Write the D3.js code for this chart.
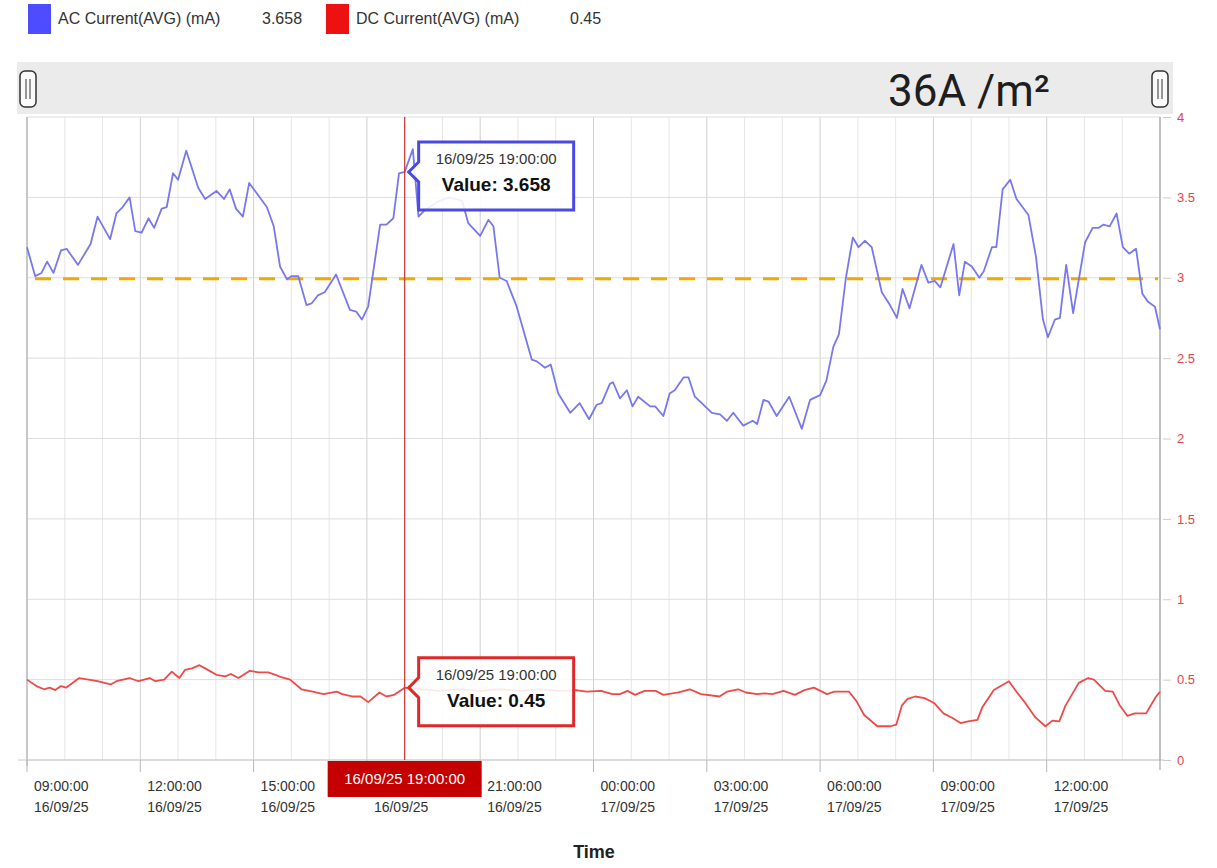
<!DOCTYPE html>
<html>
<head>
<meta charset="utf-8">
<script src="https://cdn.jsdelivr.net/npm/d3@7"></script>
<style>
  body { margin: 0; background: #fff; }
  svg { display: block; font-family: "Liberation Sans Narrow", "Arial Narrow", "Liberation Sans", sans-serif; }
</style>
</head>
<body>
<script>
// Chart size and plot area
const width = 1217;
const height = 868;
const margin = { top: 117, right: 57, bottom: 108, left: 27 };

// Data: minutes after 16/09/25 09:00:00
const acMinutes = [0,13,23,32,42,54,63,81,101,112,132,142,152,163,172,182,193,202,214,222,
  232,240,253,272,283,301,313,322,332,343,353,381,392,402,413,420,431,444,452,462,
  473,491,513,523,532,542,561,571,582,591,600,613,622,632,651,670,691,701,720,733,
  741,751,762,778,802,810,823,832,844,863,878,893,905,913,926,931,942,953,962,971,
  990,998,1011,1021,1029,1043,1051,1061,1072,1088,1101,1112,1122,1138,1153,1160,1170,1178,1191,1211,
  1231,1244,1260,1270,1281,1290,1301,1312,1321,1331,1342,1358,1371,1382,1391,1402,1421,1432,1442,1451,
  1472,1481,1490,1501,1513,1520,1533,1540,1550,1562,1572,1591,1603,1614,1622,1633,1641,1651,1662,1681,
  1693,1702,1710,1720,1731,1741,1751,1762,1772,1781,1792,1800];
const acValues = [3.19,3.01,3.03,3.10,3.03,3.17,3.18,3.08,3.21,3.38,3.24,3.40,3.44,3.50,3.29,3.28,3.37,3.31,3.43,3.44,
  3.65,3.61,3.79,3.56,3.49,3.54,3.49,3.55,3.43,3.38,3.59,3.44,3.32,3.07,2.99,3.01,3.01,2.83,2.84,2.89,
  2.91,3.02,2.80,2.79,2.74,2.82,3.33,3.33,3.37,3.65,3.658,3.80,3.38,3.42,3.47,3.50,3.48,3.34,3.26,3.36,
  3.32,3.00,2.98,2.82,2.49,2.48,2.44,2.46,2.28,2.16,2.22,2.12,2.21,2.22,2.34,2.35,2.25,2.30,2.20,2.26,
  2.20,2.20,2.14,2.28,2.30,2.38,2.38,2.26,2.22,2.16,2.15,2.11,2.16,2.08,2.11,2.09,2.24,2.23,2.14,2.26,
  2.06,2.24,2.27,2.36,2.57,2.65,3.00,3.25,3.19,3.23,3.19,2.91,2.83,2.75,2.93,2.81,3.08,2.97,2.98,2.94,
  3.21,2.89,3.10,3.07,3.00,3.04,3.19,3.19,3.55,3.61,3.49,3.39,3.13,2.74,2.63,2.74,2.75,3.08,2.78,3.22,
  3.31,3.31,3.33,3.32,3.40,3.19,3.15,3.18,2.90,2.85,2.82,2.68];

const dcMinutes = [0,15,27,36,45,54,62,83,98,112,133,142,163,177,195,204,218,230,242,251,
  262,274,283,301,315,324,336,354,368,383,395,404,418,436,454,471,492,501,518,530,
  542,560,571,583,600,624,656,688,720,751,783,815,847,872,889,912,930,942,954,966,
  981,999,1011,1035,1053,1071,1100,1112,1130,1142,1160,1172,1184,1202,1220,1235,1250,1271,1283,1295,
  1306,1318,1330,1351,1372,1381,1390,1399,1411,1426,1441,1456,1471,1483,1495,1510,1518,1536,1560,1572,
  1584,1602,1618,1629,1640,1650,1671,1686,1695,1713,1725,1736,1748,1760,1778,1793,1800];
const dcValues = [0.50,0.46,0.44,0.45,0.435,0.46,0.45,0.51,0.50,0.49,0.47,0.49,0.51,0.49,0.51,0.49,0.50,0.55,0.51,0.56,
  0.57,0.59,0.57,0.53,0.52,0.535,0.51,0.555,0.545,0.545,0.53,0.515,0.50,0.44,0.425,0.41,0.425,0.41,0.395,0.395,
  0.36,0.42,0.395,0.405,0.45,0.44,0.43,0.44,0.43,0.44,0.43,0.44,0.43,0.435,0.425,0.43,0.41,0.41,0.43,0.405,
  0.43,0.43,0.405,0.42,0.44,0.41,0.395,0.425,0.44,0.42,0.41,0.415,0.41,0.43,0.405,0.435,0.45,0.41,0.425,0.425,
  0.425,0.365,0.28,0.21,0.21,0.22,0.34,0.38,0.395,0.385,0.355,0.29,0.26,0.23,0.24,0.25,0.33,0.435,0.49,0.425,
  0.365,0.265,0.21,0.245,0.24,0.34,0.48,0.51,0.50,0.43,0.425,0.34,0.275,0.29,0.29,0.39,0.425];

const seriesNames = ["AC Current(AVG) (mA)", "DC Current(AVG) (mA)"];
const seriesColors = ["#4d4dff", "#ee1111"];
const lineColors = ["#7878ee", "#ee4a4a"];
const tipBorders = ["#4a4ae0", "#e02828"];
const cursorMinute = 600;
const cursorValues = [3.658, 0.45];
const threshold = 3;
const yTicks = [0, 0.5, 1, 1.5, 2, 2.5, 3, 3.5, 4];
const scaleLabel = "36A /m²";
const axisTitle = "Time";

const start = new Date(2025, 8, 16, 9, 0, 0);
const toDate = m => d3.timeMinute.offset(start, m);

const svg = d3.select("body").append("svg")
  .attr("width", width)
  .attr("height", height);

const x = d3.scaleTime()
  .domain([start, d3.timeHour.offset(start, 30)])
  .range([margin.left, width - margin.right]);

const y = d3.scaleLinear()
  .domain([0, 4])
  .range([height - margin.bottom, margin.top]);

const x0 = margin.left, x1 = width - margin.right;
const yTop = margin.top, yBottom = height - margin.bottom;
const cursorDate = toDate(cursorMinute);
const cx = x(cursorDate);
const cursorBoxW = 154;

// Grid lines (every hour, darker every 3 hours)
const hours = d3.timeHour.range(start, d3.timeHour.offset(start, 31));
svg.append("g").selectAll("line")
  .data(hours)
  .join("line")
  .attr("x1", d => x(d)).attr("x2", d => x(d))
  .attr("y1", yTop).attr("y2", yBottom)
  .attr("stroke", d => d.getHours() % 3 === 0 ? "#cfcfcf" : "#e6e6e6")
  .attr("stroke-width", 1);

svg.append("g").selectAll("line")
  .data(yTicks)
  .join("line")
  .attr("x1", x0).attr("x2", x1)
  .attr("y1", d => y(d)).attr("y2", d => y(d))
  .attr("stroke", "#dddddd");

// Left and bottom axis lines
svg.append("line").attr("x1", x0).attr("x2", x0).attr("y1", yTop).attr("y2", yBottom + 6).attr("stroke", "#a8a8a8");
svg.append("line").attr("x1", 18).attr("x2", x1 + 4).attr("y1", yBottom).attr("y2", yBottom).attr("stroke", "#c8c8c8");

// Right axis
const yAxis = d3.axisRight(y).tickValues(yTicks).tickSize(8).tickPadding(6).tickFormat(d3.format("~g"));
const yAxisG = svg.append("g").attr("transform", `translate(${x1 + 3},0)`).call(yAxis);
yAxisG.select(".domain").remove();
yAxisG.selectAll(".tick line").attr("stroke", "#cccccc");
yAxisG.selectAll(".tick text").attr("fill", "#e8424a").attr("font-size", 13);
svg.append("line").attr("x1", x1).attr("x2", x1).attr("y1", yTop).attr("y2", yBottom + 10).attr("stroke", "#999");

// Bottom axis, two-line labels every 3 hours
const xTicks = d3.timeHour.every(3).range(start, d3.timeHour.offset(start, 30));
const xAxisG = svg.append("g");
const xt = xAxisG.selectAll("g").data(xTicks).join("g")
  .attr("transform", d => `translate(${x(d)},${yBottom})`);
xt.append("line").attr("y1", 0).attr("y2", 12).attr("stroke", "#b8b8b8");
// the time line of a tick that sits under the cursor label is covered by it, so it is left out
const underCursor = d => x(d) + 7 < cx + cursorBoxW / 2 && x(d) + 61 > cx - cursorBoxW / 2;
xt.filter(d => !underCursor(d))
  .append("text").attr("x", 7).attr("y", 31).attr("font-size", 14).attr("fill", "#333")
  .text(d => d3.timeFormat("%H:%M:%S")(d));
xt.append("text").attr("x", 7).attr("y", 52).attr("font-size", 14).attr("fill", "#333")
  .text(d => d3.timeFormat("%d/%m/%y")(d));

svg.append("text")
  .attr("x", 594).attr("y", 858)
  .attr("text-anchor", "middle")
  .attr("font-size", 18).attr("font-weight", "bold").attr("fill", "#222")
  .text(axisTitle);

// Threshold line
svg.append("line")
  .attr("x1", x0 + 8).attr("x2", x1 - 2)
  .attr("y1", y(threshold) + 1).attr("y2", y(threshold) + 1)
  .attr("stroke", "#f2a900").attr("stroke-width", 3)
  .attr("stroke-dasharray", "16,12");

// Series lines
const line = d3.line().x(d => x(d.t)).y(d => y(d.v));
const acData = acMinutes.map((m, i) => ({ t: toDate(m), v: acValues[i] }));
const dcData = dcMinutes.map((m, i) => ({ t: toDate(m), v: dcValues[i] }));

[acData, dcData].forEach((data, i) => {
  svg.append("path")
    .datum(data)
    .attr("d", line)
    .attr("fill", "none")
    .attr("stroke", lineColors[i])
    .attr("stroke-width", 1.8)
    .attr("stroke-linejoin", "round");
});

// Cursor
svg.append("line")
  .attr("x1", cx).attr("x2", cx)
  .attr("y1", yTop).attr("y2", yBottom)
  .attr("stroke", "#cc3333").attr("stroke-width", 1.2);

// Tooltips
const tipFmt = d3.timeFormat("%d/%m/%y %H:%M:%S");
const boxW = 155, boxH = 68;
cursorValues.forEach((v, i) => {
  const ty = y(v);
  const bx = cx + 14, by = ty - 30;
  const tx = cx + 4;
  const p = `M${bx},${by} H${bx + boxW} V${by + boxH} H${bx} V${ty + 10} L${tx},${ty} L${bx},${ty - 10} Z`;
  svg.append("path")
    .attr("d", p)
    .attr("fill", "#fff").attr("fill-opacity", 0.88)
    .attr("stroke", tipBorders[i])
    .attr("stroke-width", 3);
  svg.append("text")
    .attr("x", bx + boxW / 2).attr("y", by + 22)
    .attr("text-anchor", "middle").attr("font-size", 15).attr("fill", "#333")
    .text(tipFmt(cursorDate));
  svg.append("text")
    .attr("x", bx + boxW / 2).attr("y", by + 49)
    .attr("text-anchor", "middle").attr("font-size", 19).attr("font-weight", "bold").attr("fill", "#111")
    .text("Value: " + v);
});

// Cursor label on the time axis
svg.append("rect")
  .attr("x", cx - cursorBoxW / 2).attr("y", yBottom + 1)
  .attr("width", cursorBoxW).attr("height", 36)
  .attr("fill", "#c40000");
svg.append("text")
  .attr("x", cx).attr("y", yBottom + 24)
  .attr("text-anchor", "middle").attr("font-size", 15).attr("fill", "#fff")
  .text(tipFmt(cursorDate));

// Scrollbar band with handles
svg.append("rect")
  .attr("x", 17).attr("y", 62).attr("width", 1156).attr("height", 52)
  .attr("fill", "#ebebeb");
[20, 1152].forEach(hx => {
  svg.append("rect")
    .attr("x", hx).attr("y", 71).attr("width", 16).attr("height", 36).attr("rx", 5)
    .attr("fill", "#fafafa").attr("stroke", "#333").attr("stroke-width", 1.5);
  svg.append("line").attr("x1", hx + 6).attr("x2", hx + 6).attr("y1", 79).attr("y2", 99).attr("stroke", "#333");
  svg.append("line").attr("x1", hx + 10).attr("x2", hx + 10).attr("y1", 79).attr("y2", 99).attr("stroke", "#333");
});
svg.append("text")
  .attr("x", 888).attr("y", 106)
  .attr("font-family", "Roboto, 'Liberation Sans', sans-serif")
  .attr("font-size", 44).attr("fill", "#1e1e1e")
  .text(scaleLabel);

// Legend
const legend = svg.append("g");
const legendX = [28, 326];
seriesNames.forEach((name, i) => {
  const g = legend.append("g").attr("transform", `translate(${legendX[i]},0)`);
  g.append("rect").attr("x", 0).attr("y", 4).attr("width", 23).attr("height", 30).attr("fill", seriesColors[i]);
  g.append("text").attr("x", 30).attr("y", 24).attr("font-size", 16).attr("fill", "#333").text(name);
  g.append("text").attr("x", i === 0 ? 234 : 244).attr("y", 24).attr("font-size", 16).attr("fill", "#333")
    .text(cursorValues[i]);
});
</script>
</body>
</html>
